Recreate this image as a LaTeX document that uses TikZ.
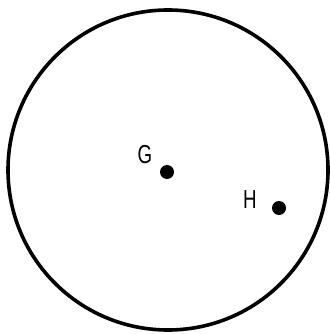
\documentclass[tikz,border=0pt]{standalone}
\usepackage{fontspec}
\newfontfamily\lblfont[FakeStretch=0.72]{Liberation Sans}
\begin{document}
\begin{tikzpicture}[x=1pt,y=-1pt,line width=3.6pt]
\path[use as bounding box] (0,0) rectangle (329,334);
\tikzset{pt/.style={circle,fill=black,inner sep=0pt,minimum size=14pt},
  lbl/.style={inner sep=0pt,font=\lblfont\fontsize{26}{26}\selectfont}}
\draw (168,170) circle (160);
\node[pt] (G) at (167,172) {};
\node[lbl] (Glbl) at (145,155) {G};
\node[pt] (H) at (279,208) {};
\node[lbl] (Hlbl) at (250,200) {H};
\end{tikzpicture}
\end{document}
